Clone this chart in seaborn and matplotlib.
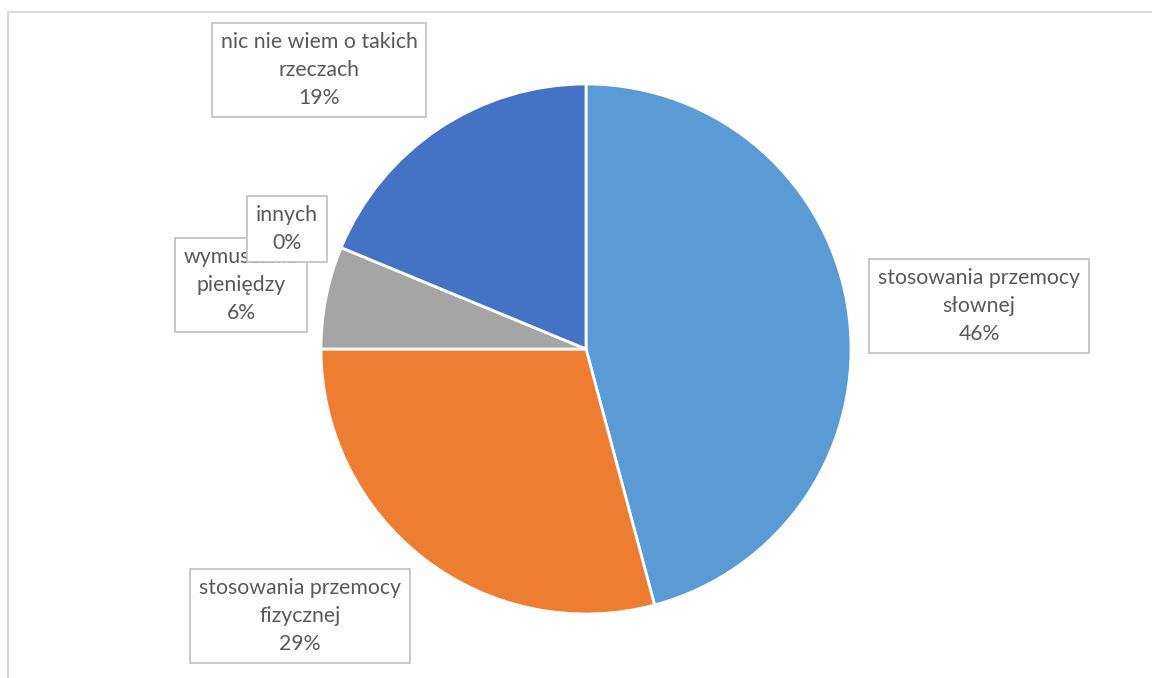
import matplotlib
matplotlib.use("Agg")
import matplotlib.pyplot as plt
import seaborn as sns

categories = ["stosowania przemocy\nsłownej", "stosowania przemocy\nfizycznej",
              "wymuszania\npieniędzy", "innych", "nic nie wiem o takich\nrzeczach"]
counts = [22, 14, 3, 0, 9]
colors = ["#5B9BD5", "#ED7D31", "#A5A5A5", "#FFC000", "#4472C4"]
# label centres in pixel coords (x, y from top)
label_pos = [(979, 306), (300, 616), (241, 285), (287, 229), (319, 70)]

sns.set_theme(style="white")
plt.rcParams['font.family'] = ['Lato', 'DejaVu Sans']

W, H = 1152, 678
fig = plt.figure(figsize=(W / 100, H / 100), dpi=100)
ax = fig.add_axes([0, 0, 1, 1])

ax.pie(counts, colors=colors, startangle=90, counterclock=False,
       center=(586, H - 349), radius=265,
       wedgeprops=dict(edgecolor="white", linewidth=2), frame=True)
ax.set_xlim(0, W)
ax.set_ylim(0, H)
ax.set_aspect("equal")
ax.axis("off")

total = sum(counts)
for i, (cat, v, (px, py)) in enumerate(zip(categories, counts, label_pos)):
    pct = round(100 * v / total)
    ax.text(px, H - py, f"{cat}\n{pct}%", ha="center", va="center",
            fontsize=15.3, color="#595959", linespacing=1.5, zorder=5 + i,
            bbox=dict(boxstyle="square,pad=0.42", facecolor="white",
                      edgecolor="#BFBFBF", linewidth=1.2))

# chart frame (only top & left visible)
ax.plot([8, W], [H - 12, H - 12], color="#D9D9D9", lw=1.5, clip_on=False, zorder=1)
ax.plot([8, 8], [0, H - 12], color="#D9D9D9", lw=1.5, clip_on=False, zorder=1)

fig.savefig("out.png", dpi=100, facecolor="white")
